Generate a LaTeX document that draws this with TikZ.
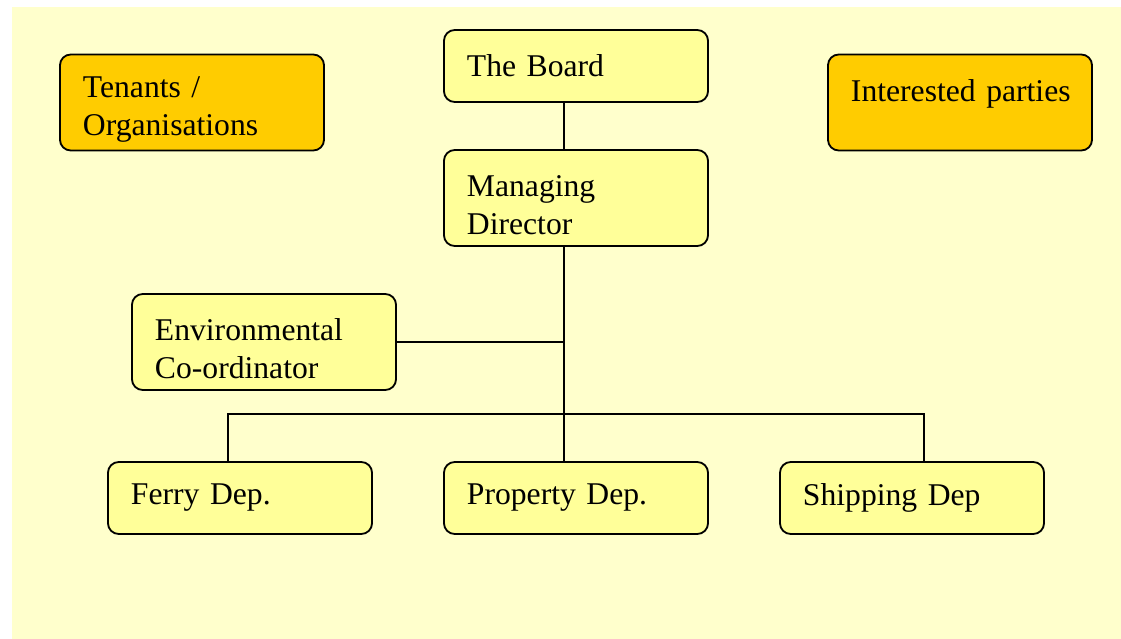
\documentclass[tikz,border=0pt]{standalone}
\usepackage{fontspec}
\setmainfont{Liberation Serif}
\usepackage{xcolor}
\definecolor{panelbg}{HTML}{FFFFCC}
\definecolor{unitfill}{HTML}{FFFF99}
\definecolor{outfill}{HTML}{FFCC00}

\begin{document}
\begin{tikzpicture}[x=0.025cm, y=-0.025cm,
    orgbox/.style={draw, rounded corners=0.27cm, line width=1.3pt, fill=unitfill,
        minimum width=6.6cm, inner xsep=0.575cm, text width=5.45cm, align=left,
        minimum height=1.8cm, font=\fontsize{22.5}{27}\selectfont},
    tallbox/.style={orgbox, minimum height=2.4cm,
        execute at begin node={\rule{0pt}{25pt}}},
    outbox/.style={tallbox, fill=outfill},
    link/.style={line width=1.2pt}]
            % page and panel
            \useasboundingbox (0,0) rectangle (1121,639);
            \fill[panelbg] (12,7) rectangle (1121,639);

            % top
            \node[orgbox] (board) at (576,66) {The Board};
            \node[tallbox] (md) at (576,198) {Managing\\Director};

            % outside parties
            \node[outbox] (tenants) at (192,102.5) {Tenants /\\Organisations};
            \node[outbox] (parties) at (960,102.5) {\mbox{Interested parties}\\~};

            % staff
            \node[tallbox] (env) at (264,342) {Environmental\\Co-ordinator};

            % departments
            \node[orgbox] (ferry) at (240,498) {Ferry Dep.};
            \node[orgbox] (property) at (576,498) {Property Dep.};
            \node[orgbox] (shipping) at (912,498) {Shipping Dep};

            % lines
            \coordinate (envjoin) at (564,342);
            \coordinate (bus) at (564,414);
            \draw[link] ([xshift=-0.3cm]board.south) -- ([xshift=-0.3cm]md.north);
            \draw[link] ([xshift=-0.3cm]md.south) -- ([xshift=-0.3cm]property.north);
            \draw[link] (env) -- (envjoin);
            \draw[link] ([xshift=-0.3cm]ferry.north) |- (bus) -| ([xshift=0.3cm]shipping.north);
\end{tikzpicture}
\end{document}
